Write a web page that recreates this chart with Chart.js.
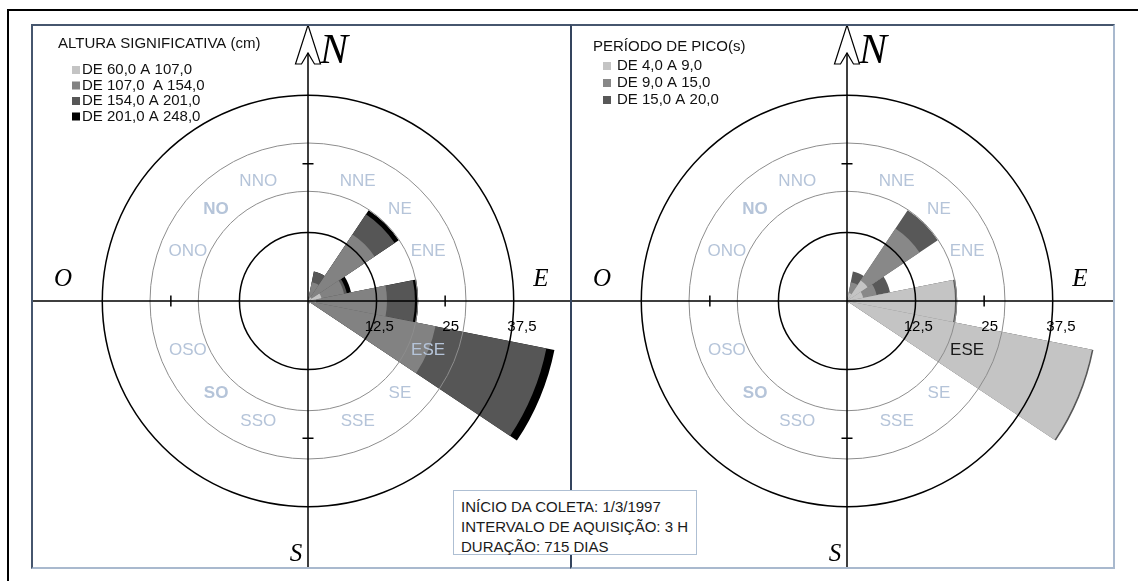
<!DOCTYPE html>
<html>
<head>
<meta charset="utf-8">
<title>Rosa de ondas</title>
<script src="https://cdn.jsdelivr.net/npm/chart.js@4.4.1/dist/chart.umd.min.js"></script>
<style>
  html, body { margin: 0; padding: 0; background: #fff; overflow: hidden; }
  #page { position: relative; width: 1138px; height: 581px; }
  .frame-top { position: absolute; left: 7px; top: 9px; width: 1131px; height: 2px; background: #000; }
  .frame-left { position: absolute; left: 7px; top: 9px; width: 2px; height: 572px; background: #000; }
  .panel { position: absolute; box-sizing: border-box; background: #fff;
           border-top: 2px solid #46566e; border-bottom: 2px solid #a9b9ce; }
  #panelL { left: 31px; top: 24px; width: 539px; height: 545px; border-left: 2px solid #46566e; }
  #panelR { left: 570px; top: 24px; width: 545px; height: 545px;
            border-left: 2px solid #34445e; border-right: 2px solid #a9b9ce; }
  canvas { position: absolute; }
  #roseHeight { left: 20px; top: 13px; }
  #rosePeriod { left: 559px; top: 13px; }
  #info { position: absolute; left: 453px; top: 490px; width: 244px; height: 65px; box-sizing: border-box;
          border: 1px solid #aebfd3; background: #fff; z-index: 5;
          font: 15px "Liberation Sans", Arial, sans-serif; color: #1a1a1a;
          line-height: 20px; padding: 6px 0 0 7px; white-space: pre; }
</style>
</head>
<body>
<div id="page">
  <div class="frame-top"></div>
  <div class="frame-left"></div>
  <div class="panel" id="panelL"></div>
  <div class="panel" id="panelR"></div>
  <canvas id="roseHeight" width="576" height="576"></canvas>
  <canvas id="rosePeriod" width="576" height="576"></canvas>
  <div id="info"></div>
</div>
<script>
// Sixteen sectors, clockwise from north (Portuguese compass names)
const directions = ['N', 'NNE', 'NE', 'ENE', 'E', 'ESE', 'SE', 'SSE',
                    'S', 'SSO', 'SO', 'OSO', 'O', 'ONO', 'NO', 'NNO'];

// Occurrence (%) per direction, by significant wave height class (cm)
const heightClassLabels = ['DE 60,0 A 107,0', 'DE 107,0  A 154,0', 'DE 154,0 A 201,0', 'DE 201,0 A 248,0'];
const height60to107  = [0, 0.5,  0.8, 2.5,  1.5,  0.6, 0.2, 0, 0, 0, 0, 0, 0, 0, 0, 0];
const height107to154 = [0, 3.0, 13.8, 4.2, 12.9, 23.1, 0.3, 0, 0, 0, 0, 0, 0, 0, 0, 0];
const height154to201 = [0, 2.0,  4.4, 0.5,  5.1, 20.6, 0,   0, 0, 0, 0, 0, 0, 0, 0, 0];
const height201to248 = [0, 0,    0.9, 0.8,  0.6,  1.5, 0,   0, 0, 0, 0, 0, 0, 0, 0, 0];

// Occurrence (%) per direction, by peak period class (s)
const periodClassLabels = ['DE 4,0 A 9,0', 'DE 9,0 A 15,0', 'DE 15,0 A 20,0'];
const period4to9   = [0, 1.5,  4.5, 3.0, 19.7, 45.5, 0.5, 0, 0, 0, 0, 0, 0, 0, 0, 0];
const period9to15  = [0, 2.0, 11.4, 2.5,  0,    0,   0,   0, 0, 0, 0, 0, 0, 0, 0, 0];
const period15to20 = [0, 2.0,  4.0, 2.5,  0.4,  0.3, 0,   0, 0, 0, 0, 0, 0, 0, 0, 0];

// Radial scale marks
const ringValues = [12.5, 37.5];
const bandRingValues = [20, 28.8];
const tickValues = [12.5, 25, 37.5];
const tickLabels = ['12,5', '25', '37,5'];
const axisTickValue = 25;
const directionLabelValue = 23.7;

const infoLines = ['INÍCIO DA COLETA: 1/3/1997', 'INTERVALO DE AQUISIÇÃO: 3 H', 'DURAÇÃO: 715 DIAS'];

document.getElementById('info').textContent = infoLines.join('\n');

const SANS = '"Liberation Sans", Arial, sans-serif';
const SERIF = '"Liberation Serif", "Times New Roman", serif';

// Stacked sectors: each dataset holds the running total up to its class,
// so the smaller (inner) classes are painted over the larger ones.
function stackedDatasets(labels, layers, colors) {
  let running = directions.map(() => 0);
  return layers.map((layer, k) => {
    running = running.map((s, i) => s + layer[i]);
    return { label: labels[k], data: running.slice(), backgroundColor: colors[k], borderWidth: 0 };
  });
}

// Compass decoration, rings, axes, labels and legend drawn over the sectors
const compassRose = {
  id: 'compassRose',
  afterDatasetsDraw(chart, _args, o) {
    const ctx = chart.ctx;
    const sc = chart.scales.r;
    const cx = sc.xCenter, cy = sc.yCenter;
    const dist = v => sc.getDistanceFromCenterForValue(v);
    const b = o.bounds;
    ctx.save();
    ctx.beginPath();
    ctx.rect(b.left, b.top, b.right - b.left, b.bottom - b.top);
    ctx.clip();

    // thin grey rings enclosing the direction names
    ctx.strokeStyle = '#8d8d8d';
    ctx.lineWidth = 1;
    bandRingValues.forEach(v => { ctx.beginPath(); ctx.arc(cx, cy, dist(v), 0, Math.PI * 2); ctx.stroke(); });

    // black value rings
    ctx.strokeStyle = '#000';
    ctx.lineWidth = 1.5;
    ringValues.forEach(v => { ctx.beginPath(); ctx.arc(cx, cy, dist(v), 0, Math.PI * 2); ctx.stroke(); });

    // north arrow
    const top = b.top - 1;
    const notchY = top + 28, baseY = top + 39;
    ctx.lineWidth = 1.2;
    ctx.beginPath();
    ctx.moveTo(cx, top);
    ctx.lineTo(cx + 12.5, baseY);
    ctx.lineTo(cx + 6.5, baseY);
    ctx.lineTo(cx, notchY);
    ctx.lineTo(cx - 6.5, baseY);
    ctx.lineTo(cx - 12.5, baseY);
    ctx.closePath();
    ctx.fillStyle = '#fff';
    ctx.fill();
    ctx.stroke();

    // cross axes
    ctx.lineWidth = 1.5;
    ctx.beginPath();
    ctx.moveTo(b.left, cy); ctx.lineTo(b.right, cy);
    ctx.moveTo(cx, notchY); ctx.lineTo(cx, b.bottom);
    ctx.stroke();

    // small ticks on the four half axes
    const t = dist(axisTickValue);
    ctx.beginPath();
    ctx.moveTo(cx + t, cy - 5.5); ctx.lineTo(cx + t, cy + 5.5);
    ctx.moveTo(cx - t, cy - 5.5); ctx.lineTo(cx - t, cy + 5.5);
    ctx.moveTo(cx - 5.5, cy - t); ctx.lineTo(cx + 5.5, cy - t);
    ctx.moveTo(cx - 5.5, cy + t); ctx.lineTo(cx + 5.5, cy + t);
    ctx.stroke();

    // cardinal letters
    ctx.fillStyle = '#000';
    ctx.textBaseline = 'alphabetic';
    ctx.textAlign = 'left';
    ctx.font = 'italic 42px ' + SERIF;
    ctx.fillText('N', cx + 12, top + 38);
    ctx.textAlign = 'center';
    ctx.textBaseline = 'middle';
    ctx.font = 'italic 25px ' + SERIF;
    ctx.fillText('O', cx - 245, cy - 22);
    ctx.fillText('E', cx + 233, cy - 22);
    ctx.fillText('S', cx - 12, cy + 253);

    // scale values below the east axis
    ctx.font = '15px ' + SANS;
    tickValues.forEach((v, i) => ctx.fillText(tickLabels[i], cx + dist(v) * 1.04, cy + 26));

    // direction names
    const R = dist(directionLabelValue);
    directions.forEach((name, i) => {
      if (i % 4 === 0) return;
      const a = i * Math.PI / 8;
      const bold = name === 'NO' || name === 'SO';
      ctx.font = (bold ? 'bold ' : '') + '17px ' + SANS;
      ctx.fillStyle = (o.labelColors && o.labelColors[name]) || '#b5c4d9';
      ctx.fillText(name, cx + R * Math.sin(a), cy - R * Math.cos(a));
    });

    // legend
    const lg = o.legend;
    ctx.textAlign = 'left';
    ctx.font = '15px ' + SANS;
    ctx.fillStyle = '#111';
    ctx.fillText(lg.title, lg.titleX, lg.titleY);
    chart.data.datasets.forEach((ds, i) => {
      const y = lg.rowY + i * lg.rowStep;
      ctx.fillStyle = ds.backgroundColor;
      ctx.fillRect(lg.swatchX, y - 4, 8, 8);
      ctx.fillStyle = '#111';
      ctx.fillText(ds.label, lg.textX, y);
    });
    ctx.restore();
  }
};

function makeRose(canvasId, datasets, decor) {
  return new Chart(document.getElementById(canvasId), {
    type: 'polarArea',
    data: { labels: directions, datasets },
    options: {
      responsive: false,
      animation: false,
      layout: { padding: 0 },
      plugins: { legend: { display: false }, tooltip: { enabled: false }, compassRose: decor },
      scales: {
        r: { display: false, min: 0, max: 52.5, startAngle: -11.25 }
      }
    },
    plugins: [compassRose]
  });
}

makeRose('roseHeight',
  stackedDatasets(heightClassLabels,
    [height60to107, height107to154, height154to201, height201to248],
    ['#c4c4c4', '#828282', '#565656', '#000000']),
  {
    bounds: { left: 13, top: 13, right: 550, bottom: 554 },
    legend: { title: 'ALTURA SIGNIFICATIVA (cm)', titleX: 38, titleY: 31,
              swatchX: 52, textX: 62, rowY: 57, rowStep: 15.5 }
  });

makeRose('rosePeriod',
  stackedDatasets(periodClassLabels,
    [period4to9, period9to15, period15to20],
    ['#c4c4c4', '#888888', '#585858']),
  {
    bounds: { left: 13, top: 13, right: 554, bottom: 554 },
    labelColors: { ESE: '#1a1a1a' },
    legend: { title: 'PERÍODO DE PICO(s)', titleX: 34, titleY: 34,
              swatchX: 44, textX: 58, rowY: 53, rowStep: 17 }
  });
</script>
</body>
</html>
